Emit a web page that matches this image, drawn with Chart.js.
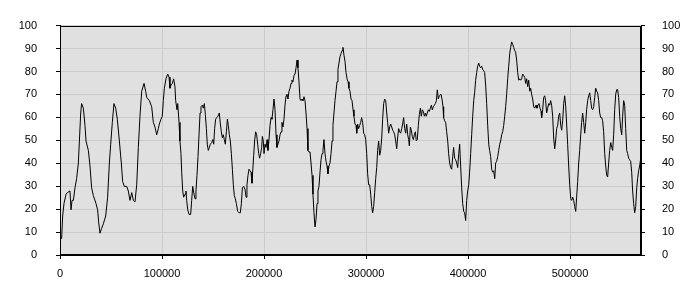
<!DOCTYPE html>
<html>
<head>
<meta charset="utf-8">
<script src="https://cdn.jsdelivr.net/npm/chart.js@4/dist/chart.umd.min.js"></script>
<style>
  body { margin: 0; background: #fff; }
</style>
</head>
<body>
<canvas id="myChart" width="700" height="300"></canvas>
<script>
// x positions in thousands
const xThousands = [
  0, 1.6, 2.6, 3.9, 5.9, 7.2, 9.8, 10.8, 11.8, 13.1, 14.7, 16.3, 18.0, 19.0, 20.3, 21.2, 22.9, 24.5, 25.5, 27.8,
  29.4, 31.0, 32.7, 35.3, 36.9, 37.9, 39.2, 40.8, 42.5, 44.8, 46.7, 48.4, 49.7, 51.3, 52.9, 54.6, 56.2, 58.2, 60.1, 61.4,
  63.1, 65.4, 67.0, 68.6, 70.3, 71.9, 73.5, 75.2, 76.8, 78.4, 80.1, 82.4, 84.0, 85.0, 87.6, 89.9, 91.5, 93.1, 94.8, 96.4,
  97.4, 99.0, 100.3, 101.3, 102.3, 103.9, 105.6, 106.9, 107.8, 108.8, 110.1, 111.4, 112.7, 113.4, 114.7, 115.4, 116.7, 117.6, 118.6, 119.3,
  120.3, 121.2, 122.6, 123.5, 124.2, 125.2, 126.5, 128.1, 129.1, 130.1, 131.4, 132.4, 133.3, 134.3, 135.3, 136.3, 137.3, 138.2, 139.5, 140.5,
  141.5, 142.5, 143.5, 144.4, 145.4, 146.4, 147.4, 148.7, 149.7, 150.7, 151.6, 152.6, 153.6, 154.9, 156.2, 157.2, 158.2, 159.2, 160.1, 161.1,
  162.1, 163.1, 164.1, 165.0, 166.0, 167.0, 168.0, 169.0, 169.9, 170.9, 171.9, 172.9, 174.2, 175.5, 176.8, 177.8, 178.8, 180.1, 181.4, 182.4,
  183.3, 184.3, 185.3, 186.3, 187.3, 188.2, 189.9, 190.8, 191.8, 192.8, 193.8, 194.8, 195.7, 196.7, 197.7, 198.4, 199.3, 200.0, 201.0, 202.0,
  203.0, 203.9, 204.9, 205.9, 206.9, 207.8, 208.8, 209.8, 210.8, 211.8, 212.7, 213.7, 214.7, 215.7, 216.7, 217.6, 218.6, 219.6, 220.6, 221.6,
  222.5, 223.5, 224.5, 225.5, 226.5, 227.4, 228.4, 229.4, 230.4, 231.4, 232.4, 233.3, 234.3, 235.3, 236.3, 237.3, 238.2, 239.2, 240.2, 241.2,
  242.2, 243.1, 244.1, 245.1, 246.1, 247.1, 248.0, 249.0, 250.0, 251.0, 252.0, 252.9, 253.9, 254.9, 255.9, 256.9, 257.8, 258.8, 259.8, 260.8,
  261.8, 262.7, 263.7, 264.7, 265.7, 266.7, 267.6, 268.6, 269.6, 270.6, 271.6, 272.5, 273.5, 274.5, 275.5, 276.5, 277.4, 278.4, 279.4, 280.4,
  281.4, 282.4, 283.3, 284.3, 285.3, 286.3, 287.3, 288.2, 289.2, 290.2, 290.9, 291.8, 292.8, 293.8, 294.8, 295.7, 296.7, 297.7, 298.7, 299.7,
  300.7, 301.6, 302.6, 303.6, 304.6, 305.6, 306.5, 307.5, 308.5, 309.5, 310.5, 311.4, 312.4, 313.4, 314.4, 315.4, 316.3, 317.3, 318.3, 319.3,
  320.3, 321.2, 322.2, 323.2, 324.2, 325.2, 326.1, 327.1, 328.1, 329.1, 330.1, 331.0, 332.0, 333.0, 334.0, 335.0, 335.9, 336.9, 337.9, 338.9,
  339.9, 340.9, 341.8, 342.5, 343.5, 344.4, 345.4, 346.4, 347.4, 348.4, 349.3, 350.3, 351.3, 352.3, 353.3, 354.2, 355.2, 356.2, 357.2, 358.2,
  359.1, 360.1, 361.1, 362.1, 363.1, 364.1, 365.0, 366.0, 367.0, 368.0, 369.0, 369.9, 370.9, 371.9, 373.5, 374.5, 375.5, 376.1, 377.1, 378.1,
  379.1, 380.1, 381.0, 382.0, 383.0, 384.0, 385.0, 385.9, 386.9, 387.9, 388.9, 389.9, 390.9, 391.8, 392.8, 393.8, 394.8, 395.8, 396.7, 397.7,
  398.7, 399.7, 400.7, 401.6, 402.6, 403.6, 404.6, 405.6, 406.5, 407.5, 408.5, 409.5, 410.5, 411.4, 412.4, 413.4, 414.4, 415.4, 416.3, 417.3,
  418.3, 419.3, 420.3, 421.2, 422.2, 423.2, 424.2, 425.2, 426.2, 427.1, 428.1, 429.1, 430.1, 431.1, 432.0, 433.0, 434.0, 435.0, 436.0, 436.9,
  437.9, 438.9, 439.9, 440.9, 441.8, 442.8, 443.8, 444.8, 445.8, 446.7, 447.7, 448.7, 449.7, 450.7, 451.6, 452.6, 453.6, 454.6, 455.6, 456.5,
  457.5, 458.5, 459.5, 460.5, 461.4, 462.4, 463.4, 464.4, 465.4, 466.7, 467.6, 468.6, 469.6, 470.6, 471.6, 472.2, 473.2, 474.2, 475.2, 476.1,
  477.1, 478.1, 479.1, 480.1, 481.0, 482.0, 483.0, 484.0, 485.0, 485.9, 486.9, 487.9, 488.9, 489.9, 490.9, 491.8, 492.8, 493.8, 494.8, 495.8,
  496.7, 497.7, 498.7, 499.7, 500.7, 501.6, 502.6, 503.6, 504.6, 505.6, 506.5, 507.5, 508.5, 509.5, 510.5, 511.4, 512.4, 513.4, 514.4, 515.4,
  516.3, 517.3, 518.3, 519.3, 520.3, 521.2, 522.2, 523.2, 524.2, 525.2, 526.1, 527.1, 528.1, 529.1, 530.1, 531.1, 532.0, 533.0, 534.0, 535.0,
  536.0, 536.9, 537.9, 538.9, 539.9, 540.9, 541.8, 542.8, 543.8, 544.8, 545.8, 546.7, 547.7, 548.7, 549.7, 550.7, 551.6, 552.6, 553.6, 554.6,
  555.6, 556.5, 557.5, 558.5, 559.5, 560.5, 561.4, 562.4, 563.4, 564.4, 565.4, 566.3, 567.3, 568.3, 569.3
];

const values = [
  7.2, 7.2, 17, 22.4, 26.5, 27.2, 27.9, 19.7, 23.8, 23.8, 29.3, 33.3, 40.1, 49.7, 61.9, 66, 64, 56.5, 49.7, 45.6,
  38.8, 29.3, 25.9, 22.4, 19.7, 14.3, 9.5, 11.6, 13.6, 17, 25.2, 40.1, 48.3, 57.8, 66, 64, 59.2, 49.7, 40.1, 32,
  29.9, 29.9, 27.9, 23.8, 27.2, 23.8, 23.1, 30.6, 46.9, 60.5, 71.4, 74.8, 71.4, 68.7, 67.3, 64.6, 57.8, 55.8, 52.4, 55.1,
  57.1, 59.2, 60.5, 67.3, 72.7, 76.8, 78.9, 77.5, 72.7, 74.1, 74.8, 76.8, 73.4, 67.3, 63.3, 66, 57.8, 49.7, 44.2, 36.1,
  27.9, 25.2, 26.5, 27.9, 23.8, 19.7, 17.7, 17.7, 23.8, 29.9, 26.5, 24.5, 27.9, 34.7, 42.9, 52.4, 61.9, 64.6, 65.3, 64,
  66, 61.2, 55.1, 48.3, 45.6, 46.9, 48.3, 49, 50.3, 48.3, 55.1, 59.2, 59.9, 60.5, 61.9, 57.1, 53.7, 51, 52.4, 50.3,
  48.3, 53.7, 59.2, 56.5, 52.4, 49.7, 44.2, 37.4, 30.6, 25.9, 24.5, 22.4, 19, 18.4, 18.4, 22.4, 29.3, 29.9, 28.6, 25.2,
  30.6, 34.7, 37.4, 36.7, 36.1, 31.3, 43.5, 49.7, 53.7, 52.4, 48.3, 44.2, 42.2, 44.2, 46.9, 51.7, 49.7, 44.2, 48.3, 46.9,
  50.3, 45.6, 50.3, 56.5, 59.9, 59.2, 63.3, 68, 63.3, 52.4, 46.9, 48.3, 49.7, 52.4, 53.7, 57.8, 55.8, 59.2, 65.3, 69.4,
  70.1, 68, 71.4, 72.7, 74.8, 76.2, 75.5, 78.2, 78.9, 81.6, 85, 81.6, 75.5, 68, 67.3, 68, 67.3, 69, 67.3, 61.9,
  55.1, 45.6, 44.9, 44.9, 40.1, 34.7, 26.5, 18.4, 12.2, 15.6, 22.4, 27.9, 29.9, 36.1, 41.5, 44.2, 45.6, 50.3, 44.2, 40.8,
  38.8, 35.4, 38.8, 40.1, 44.2, 49.7, 56.5, 61.9, 67.3, 71.4, 75.5, 80.9, 83.7, 86.4, 87.8, 89.1, 90.5, 87.1, 84.4, 79.6,
  76.8, 75.5, 72.7, 71.4, 68, 67.3, 63.3, 60.5, 57.1, 56.5, 53.1, 57.1, 55.1, 56.5, 57.8, 59.9, 57.8, 53.1, 52.4, 50.3,
  44.2, 35.4, 30.6, 30.6, 26.5, 21.1, 18.4, 21.1, 27.2, 33.3, 38.1, 45.6, 49.7, 43.5, 45.6, 51, 59.2, 66, 68, 67.3,
  61.9, 57.8, 53.1, 55.8, 57.1, 55.8, 54.4, 53.7, 52.4, 49.7, 46.3, 51, 55.1, 53.7, 53.1, 55.1, 57.1, 59.9, 55.1, 53.1,
  57.1, 52.4, 50.3, 47.6, 55.8, 54.4, 51.7, 50.3, 52.4, 53.7, 49.7, 50.3, 56.5, 61.2, 64, 60.5, 63.3, 62.6, 60.5, 61.9,
  60.5, 61.9, 63.3, 62.6, 64, 65.3, 63.3, 64.6, 65.3, 66, 67.3, 72, 68, 69.4, 70.1, 68, 64.6, 59.9, 58.5, 57.8,
  53.7, 49.7, 44.2, 40.1, 38.1, 37.4, 42.9, 46.9, 42.2, 41.5, 40.1, 38.1, 44.2, 48.3, 38.8, 29.3, 22.4, 19, 18.4, 15,
  23.8, 27.9, 30.6, 36.1, 44.2, 52.4, 60.5, 67.3, 70.7, 76.2, 79.6, 82.3, 83.7, 82.3, 81.6, 82.3, 80.9, 80.3, 79.6, 74.1,
  66, 56.5, 48.3, 45.6, 42.9, 37.4, 36.1, 36.7, 33.3, 40.1, 40.8, 42.9, 45.6, 48.3, 49.7, 52.4, 53.7, 56.5, 60.5, 64.6,
  70.1, 76.8, 82.3, 87.8, 90.5, 92.9, 91.8, 90.5, 89.1, 88.4, 85, 79.6, 76.2, 76.8, 76.2, 76.8, 78.9, 78.2, 77.5, 74.8,
  76.8, 73.4, 76.2, 71.4, 72.7, 70.1, 68, 64.6, 64, 65.3, 64, 65.3, 66, 64, 62.6, 59.9, 63.3, 68.7, 69.4, 67.3,
  61.9, 64, 66, 65.3, 67.3, 65.3, 60.5, 51, 46.3, 49.7, 55.1, 56.5, 60.5, 61.9, 56.5, 54.4, 58.5, 66, 69.4, 64.6,
  57.1, 48.3, 38.8, 30.6, 24.5, 23.8, 25.2, 23.8, 21.1, 19, 25.2, 32, 40.1, 45.6, 52.4, 57.8, 61.9, 57.8, 53.1, 57.8,
  63.3, 67.3, 69.4, 70.7, 67.3, 64, 63.3, 64.6, 68.7, 72.7, 71.4, 70.7, 67.3, 61.9, 59.9, 59.9, 58.5, 53.7, 44.2, 38.8,
  34.7, 34, 40.1, 45.6, 49, 46.9, 45.6, 52.4, 63.3, 70.1, 72.1, 72.1, 68.7, 60.5, 55.1, 52.4, 60.5, 67.3, 65.3, 55.1,
  45.6, 44.2, 42.2, 41.5, 40.8, 36.1, 27.9, 22.4, 18.4, 21.1, 29.3, 33.3, 36.7, 38.8, 42.2
];

const xMax = 569600;
const xTickValues = [0, 100000, 200000, 300000, 400000, 500000];
const yTickStep = 10;

const points = xThousands.map((x, i) => ({ x: x * 1000, y: values[i] }));

const tickFont = { family: 'Liberation Sans, Arial, sans-serif', size: 11 };

// gray plot background + black frame round it
const plotFrame = {
  id: 'plotFrame',
  beforeDraw(chart) {
    const a = chart.chartArea;
    const ctx = chart.ctx;
    ctx.save();
    ctx.fillStyle = '#e0e0e0';
    ctx.fillRect(a.left, a.top, a.right - a.left, a.bottom - a.top);
    ctx.restore();
  },
  afterDraw(chart) {
    const a = chart.chartArea;
    const ctx = chart.ctx;
    ctx.save();
    ctx.strokeStyle = '#000';
    ctx.lineWidth = 1;
    ctx.strokeRect(Math.round(a.left) + 0.5, Math.round(a.top) + 0.5,
      Math.round(a.right - a.left) - 1, Math.round(a.bottom - a.top) - 1);
    ctx.restore();
  }
};

const ctx = document.getElementById('myChart').getContext('2d');
const chart = new Chart(ctx, {
  type: 'line',
  data: {
    datasets: [
      {
        data: points,
        borderColor: '#000',
        borderWidth: 1,
        pointRadius: 0,
        tension: 0,
        fill: false
      }
    ]
  },
  options: {
    responsive: false,
    animation: false,
    layout: { padding: { top: 10, left: 0, right: 0, bottom: 0 } },
    plugins: {
      legend: { display: false },
      tooltip: { enabled: false }
    },
    scales: {
      x: {
        type: 'linear',
        position: 'bottom',
        min: 0,
        max: xMax,
        afterFit(s) { s.height = 45; },
        afterBuildTicks(s) { s.ticks = xTickValues.map(v => ({ value: v })); },
        ticks: {
          maxRotation: 0,
          autoSkip: false,
          padding: 8,
          color: '#000',
          font: tickFont,
          callback: v => String(v)
        },
        grid: { color: '#cccccc', tickColor: '#000', tickLength: 4 },
        border: { color: '#000' }
      },
      y: {
        position: 'left',
        min: 0,
        max: 100,
        afterFit(s) { s.width = 60; },
        ticks: { stepSize: yTickStep, padding: 19, color: '#000', font: tickFont },
        grid: { color: '#cccccc', tickColor: '#000', tickLength: 4 },
        border: { color: '#000' }
      },
      y2: {
        position: 'right',
        min: 0,
        max: 100,
        afterFit(s) { s.width = 59; },
        ticks: { stepSize: yTickStep, padding: 17, color: '#000', font: tickFont },
        grid: { drawOnChartArea: false, tickColor: '#000', tickLength: 4 },
        border: { color: '#000' }
      }
    }
  },
  plugins: [plotFrame]
});
</script>
</body>
</html>
